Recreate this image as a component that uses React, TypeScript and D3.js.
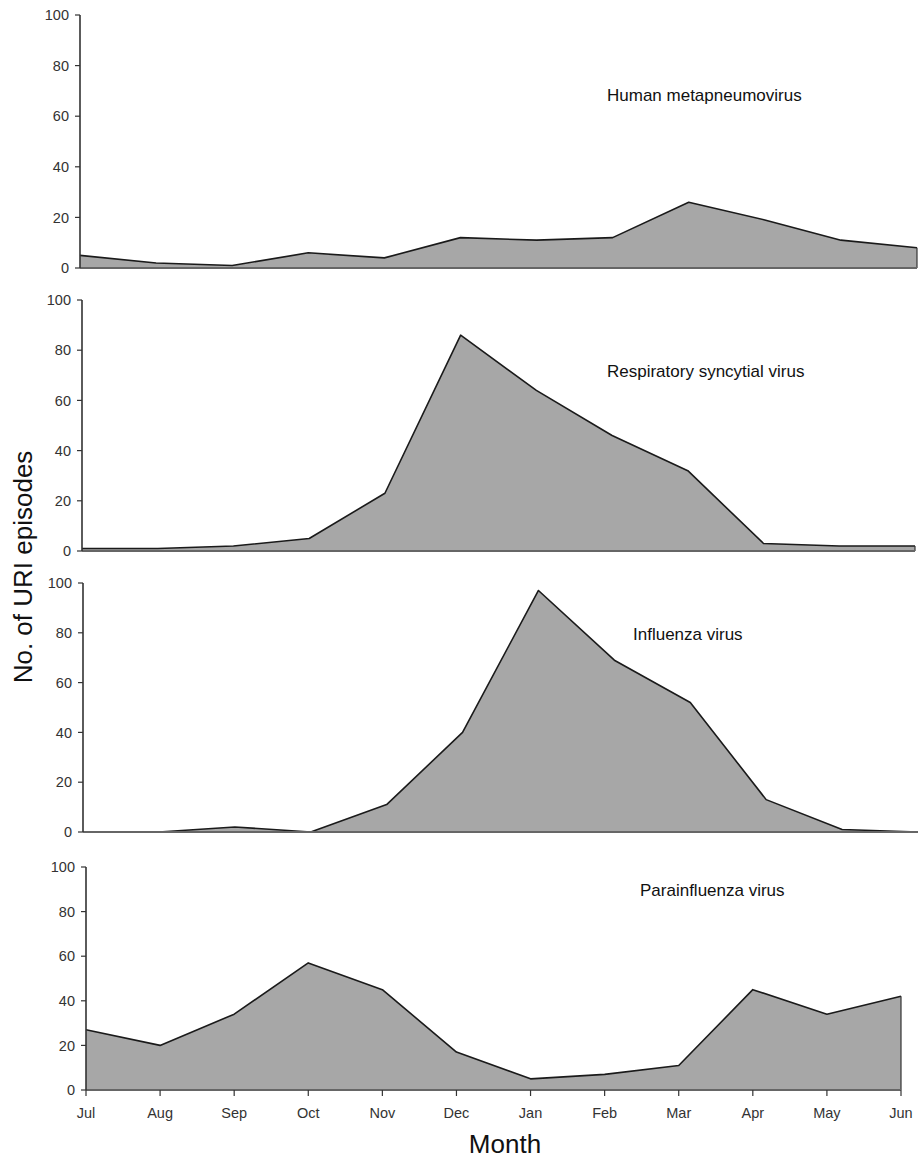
import React from 'react';
import * as d3 from 'd3';

// Monthly URI episodes by virus, July through June.
const months = ['Jul', 'Aug', 'Sep', 'Oct', 'Nov', 'Dec', 'Jan', 'Feb', 'Mar', 'Apr', 'May', 'Jun'];
const yTicks = [0, 20, 40, 60, 80, 100];

const hmpv = [5, 2, 1, 6, 4, 12, 11, 12, 26, 19, 11, 8];
const rsv = [1, 1, 2, 5, 23, 86, 64, 46, 32, 3, 2, 2];
const influenza = [0, 0, 2, 0, 11, 40, 97, 69, 52, 13, 1, 0];
const parainfluenza = [27, 20, 34, 57, 45, 17, 5, 7, 11, 45, 34, 42];

const titles = ['Human metapneumovirus', 'Respiratory syncytial virus', 'Influenza virus', 'Parainfluenza virus'];
const series = [hmpv, rsv, influenza, parainfluenza];

// Panel frames in page pixels — the scanned original is slightly skewed,
// so each panel keeps its own left/right edge.
const frames = [
  { x0: 80, x1: 917, top: 15, bottom: 268, tx: 607, ty: 101 },
  { x0: 82, x1: 915, top: 300, bottom: 551, tx: 607, ty: 377 },
  { x0: 83, x1: 918, top: 583, bottom: 832, tx: 633, ty: 640 },
  { x0: 86, x1: 901, top: 867, bottom: 1090, tx: 640, ty: 896 },
];

const FONT = 'Arial, "Liberation Sans", Helvetica, sans-serif';

function Panel({ idx }: { idx: number }) {
  const f = frames[idx];
  const values = series[idx];
  const last = idx === frames.length - 1;

  const x = d3.scaleLinear().domain([0, months.length - 1]).range([f.x0, f.x1]);
  const y = d3.scaleLinear().domain([0, 100]).range([f.bottom, f.top]);

  const area = d3.area<number>().x((_, i) => x(i)).y0(y(0)).y1((d) => y(d));
  const line = d3.line<number>().x((_, i) => x(i)).y((d) => y(d));
  const lastV = values[values.length - 1];

  return (
    <g>
      <path d={area(values) ?? ''} fill="#a7a7a7" stroke="none" />
      <path d={line(values) ?? ''} fill="none" stroke="#1a1a1a" strokeWidth={1.6} strokeLinejoin="round" />
      <line x1={x(11)} x2={x(11)} y1={y(lastV)} y2={y(0)} stroke="#333" strokeWidth={1.2} />

      {/* x baseline */}
      <line x1={f.x0} x2={f.x1} y1={y(0)} y2={y(0)} stroke="#666" strokeWidth={1.8} />
      {/* y axis */}
      <line x1={f.x0} x2={f.x0} y1={y(100)} y2={y(0)} stroke="#333" strokeWidth={1.6} />
      {yTicks.map((t) => (
        <g key={t}>
          <line x1={f.x0 - 5} x2={f.x0} y1={y(t)} y2={y(t)} stroke="#333" strokeWidth={1.2} />
          <text x={f.x0 - 11} y={y(t)} dy="0.36em" textAnchor="end" fontSize={14.5} fill="#333" fontFamily={FONT}>
            {t}
          </text>
        </g>
      ))}

      {last &&
        months.map((m, i) => (
          <g key={m}>
            <line x1={x(i)} x2={x(i)} y1={y(0)} y2={y(0) + 6} stroke="#333" strokeWidth={1.2} />
            <text x={x(i)} y={1118} textAnchor="middle" fontSize={14.5} fill="#333" fontFamily={FONT}>
              {m}
            </text>
          </g>
        ))}

      <text x={f.tx} y={f.ty} fontSize={17} fill="#111" fontFamily={FONT}>
        {titles[idx]}
      </text>
    </g>
  );
}

export default function App() {
  return (
    <svg
      width={919}
      height={1160}
      viewBox="0 0 919 1160"
      style={{ position: 'absolute', left: 0, top: 0, background: '#fff' }}
    >
      <rect width={919} height={1160} fill="#fff" />
      {frames.map((_, i) => (
        <Panel key={i} idx={i} />
      ))}
      <text
        transform="translate(32,567) rotate(-90)"
        textAnchor="middle"
        fontSize={26}
        fill="#111"
        fontFamily={FONT}
      >
        No. of URI episodes
      </text>
      <text x={505} y={1153} textAnchor="middle" fontSize={26} fill="#111" fontFamily={FONT}>
        Month
      </text>
    </svg>
  );
}
